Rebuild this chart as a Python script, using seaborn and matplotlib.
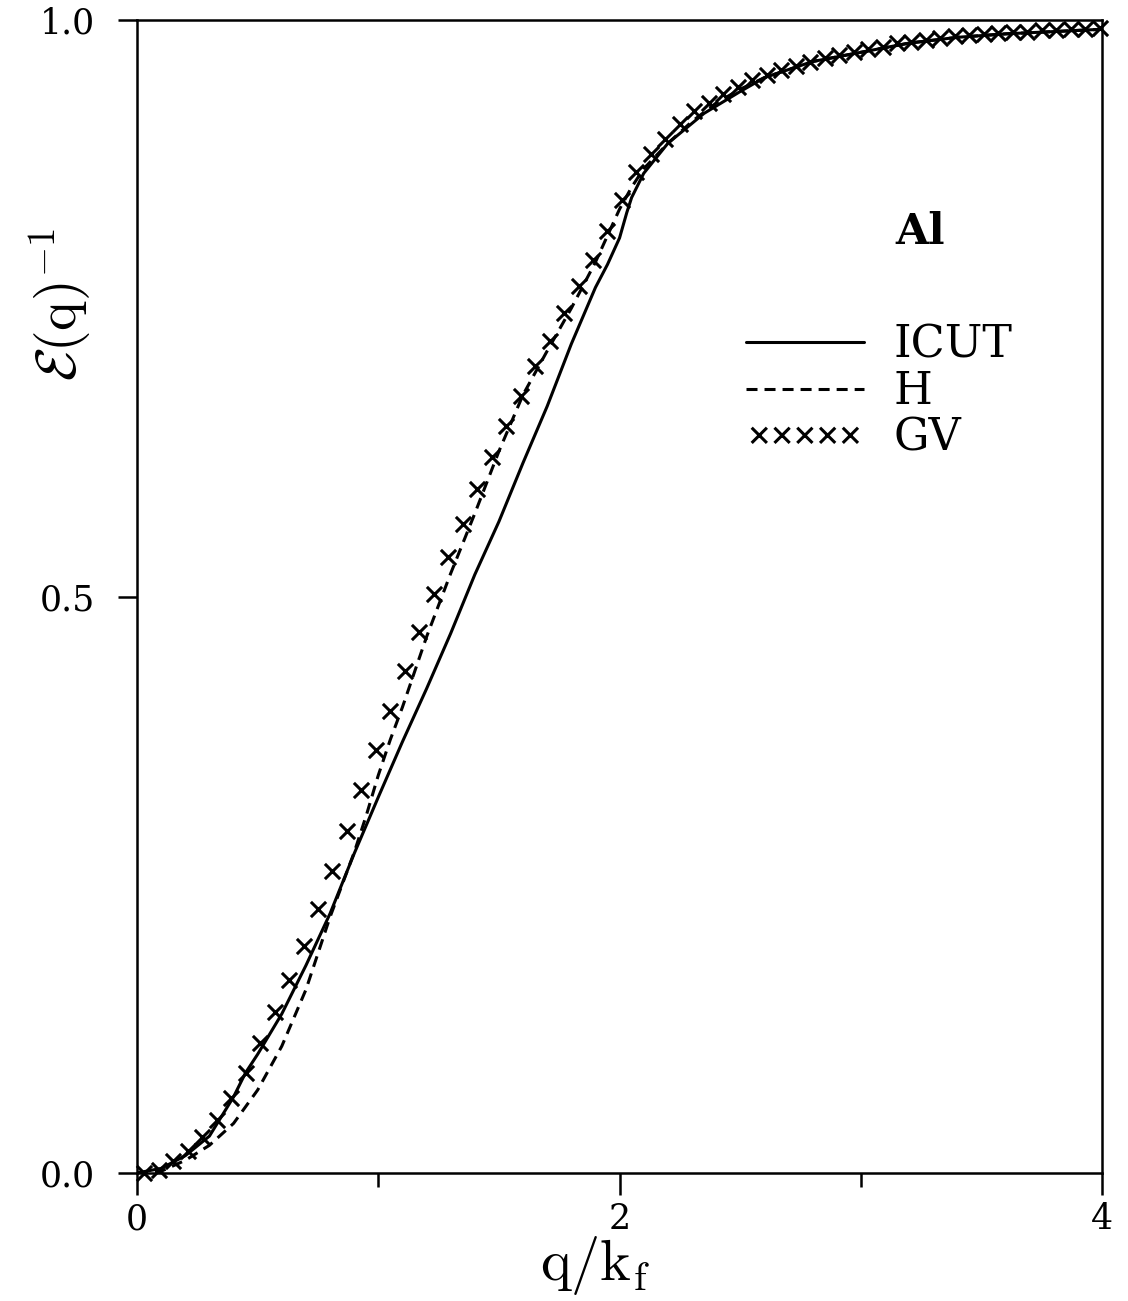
import numpy as np
import pandas as pd

import seaborn as sns
import matplotlib.pyplot as plt
from matplotlib.ticker import MultipleLocator


# ICUT curve (solid)
q_icut = [0.0, 0.1, 0.2, 0.3, 0.4, 0.45, 0.5, 0.6, 0.7, 0.8, 0.9, 1.0, 1.1, 1.2,
          1.3, 1.4, 1.5, 1.6, 1.7, 1.8, 1.9, 1.95, 2.0, 2.03, 2.05, 2.1, 2.2,
          2.35, 2.5, 2.6, 2.8, 3.0, 3.2, 3.4, 3.6, 3.8, 4.0]
eps_icut = [0.0, 0.004, 0.015, 0.032, 0.066, 0.087, 0.103, 0.138, 0.180, 0.225,
            0.277, 0.326, 0.374, 0.420, 0.468, 0.519, 0.565, 0.616, 0.665, 0.719,
            0.768, 0.788, 0.811, 0.833, 0.846, 0.867, 0.893, 0.919, 0.938, 0.950,
            0.964, 0.972, 0.980, 0.985, 0.988, 0.990, 0.992]

# H curve (dashed)
q_h = [0.0, 0.1, 0.2, 0.3, 0.4, 0.5, 0.6, 0.7, 0.8, 0.9, 0.95, 1.0, 1.05, 1.1,
       1.2, 1.3, 1.4, 1.5, 1.6, 1.7, 1.8, 1.9, 2.0, 2.05, 2.1, 2.2, 2.3, 2.4,
       2.5, 2.6, 2.8, 3.0, 3.2, 3.4, 3.6, 3.8, 4.0]
eps_h = [0.0, 0.0015, 0.011, 0.024, 0.043, 0.072, 0.110, 0.159, 0.222, 0.278,
         0.310, 0.345, 0.376, 0.404, 0.465, 0.520, 0.572, 0.626, 0.675, 0.713,
         0.750, 0.790, 0.836, 0.855, 0.871, 0.893, 0.912, 0.928, 0.940, 0.950,
         0.964, 0.972, 0.980, 0.985, 0.988, 0.990, 0.992]

# GV points (crosses)
q_gv = [0.03, 0.09, 0.15, 0.21, 0.27, 0.33, 0.39, 0.45, 0.51, 0.57, 0.63, 0.69,
        0.75, 0.81, 0.87, 0.93, 0.99, 1.05, 1.11, 1.17, 1.23, 1.29, 1.35, 1.41,
        1.47, 1.53, 1.59, 1.65, 1.71, 1.77, 1.83, 1.89, 1.95, 2.01, 2.07, 2.13,
        2.19, 2.25, 2.31, 2.37, 2.43, 2.49, 2.55, 2.61, 2.67, 2.73, 2.79, 2.85,
        2.91, 2.97, 3.03, 3.09, 3.15, 3.21, 3.27, 3.33, 3.39, 3.45, 3.51, 3.57,
        3.63, 3.69, 3.75, 3.81, 3.87, 3.93, 3.99]
eps_gv = [0.000, 0.003, 0.010, 0.019, 0.031, 0.046, 0.065, 0.087, 0.113, 0.140,
          0.167, 0.197, 0.229, 0.262, 0.297, 0.332, 0.367, 0.401, 0.435, 0.469,
          0.502, 0.534, 0.563, 0.593, 0.621, 0.648, 0.674, 0.700, 0.722, 0.746,
          0.769, 0.792, 0.817, 0.844, 0.868, 0.884, 0.897, 0.910, 0.921, 0.928,
          0.936, 0.942, 0.948, 0.952, 0.957, 0.960, 0.964, 0.967, 0.970, 0.972,
          0.975, 0.977, 0.980, 0.981, 0.983, 0.984, 0.986, 0.987, 0.988, 0.989,
          0.990, 0.990, 0.991, 0.991, 0.992, 0.992, 0.993]

x_ticks = [0, 2, 4]
y_ticks = [0.0, 0.5, 1.0]

sns.set_theme(style='ticks')
plt.rcParams['font.family'] = ['DejaVu Serif']
plt.rcParams['mathtext.fontset'] = 'cm'
plt.rcParams['text.color'] = 'black'
plt.rcParams['axes.labelcolor'] = 'black'
plt.rcParams['xtick.color'] = 'black'
plt.rcParams['ytick.color'] = 'black'

fig = plt.figure(figsize=(11.28, 13.01), dpi=100)
ax = fig.add_axes([0.1215, 0.0984, 0.8555, 0.8862])

sns.lineplot(x=q_icut, y=eps_icut, color='black', linewidth=2.2, label='ICUT', ax=ax)
sns.lineplot(x=q_h, y=eps_h, color='black', linewidth=2.2,
             linestyle=(0, (3.6, 2.3)), label='H', ax=ax)
sns.scatterplot(x=q_gv, y=eps_gv, color='black', marker='x', s=120,
                linewidth=2.2, label='GV', ax=ax, clip_on=False, zorder=3)

ax.set_xlim(0, 4)
ax.set_ylim(0, 1)
ax.set_xticks(x_ticks)
ax.set_xticklabels([str(t) for t in x_ticks])
ax.xaxis.set_minor_locator(MultipleLocator(1))
ax.set_yticks(y_ticks)
ax.set_yticklabels(['%.1f' % t for t in y_ticks])

for s in ax.spines.values():
    s.set_linewidth(1.8)
    s.set_color('black')
ax.tick_params(axis='x', which='major', direction='out', length=16, width=1.8,
               labelsize=25, pad=5, colors='black')
ax.tick_params(axis='x', which='minor', direction='out', length=10, width=1.8,
               colors='black')
ax.tick_params(axis='y', which='major', direction='out', length=14, width=1.8,
               labelsize=25, pad=16, colors='black')

ax.set_xlabel(r'$\mathrm{q/k_f}$', fontsize=42, color='black')
ax.xaxis.set_label_coords(0.475, -0.053)
ax.set_ylabel(r'$\mathcal{E}(\mathrm{q})^{-1}$', fontsize=40, color='black')
ax.yaxis.set_label_coords(-0.045, 0.753)

ax.text(3.245, 0.816, 'Al', fontsize=31, fontweight='bold', color='black',
        ha='center', va='center')

leg = ax.legend(loc='upper left', bbox_to_anchor=(0.631, 0.737), frameon=False,
                fontsize=32, handlelength=2.65, handletextpad=0.68,
                labelspacing=0.08, borderpad=0, borderaxespad=0,
                scatterpoints=5, scatteryoffsets=[0.5])
for t in leg.get_texts():
    t.set_color('black')

fig.savefig('out.png', dpi=100, facecolor='white')
